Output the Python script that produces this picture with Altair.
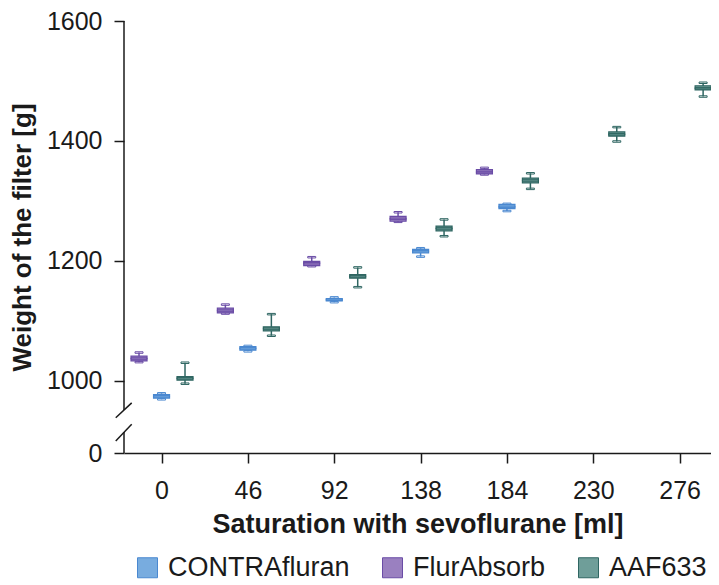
import altair as alt
import pandas as pd

# ---- data ----
levels = [0, 46, 92, 138, 184, 230, 276]
filters = ["CONTRAfluran", "FlurAbsorb", "AAF633"]

contra_lo = [969, 1049, 1131, 1207, 1283]
contra_q1 = [971, 1051, 1133, 1213, 1287]
contra_med = [974, 1054, 1135, 1216, 1290]
contra_q3 = [977, 1057, 1137, 1219, 1294]
contra_hi = [979, 1058, 1139, 1221, 1295]

flur_lo = [1031, 1112, 1191, 1265, 1344]
flur_q1 = [1033, 1113, 1192, 1266, 1345]
flur_med = [1037, 1117, 1196, 1270, 1348]
flur_q3 = [1041, 1121, 1199, 1274, 1352]
flur_hi = [1047, 1127, 1206, 1281, 1355]

aaf_lo = [995, 1075, 1156, 1241, 1320, 1399, 1474]
aaf_q1 = [1001, 1083, 1171, 1250, 1330, 1408, 1485]
aaf_med = [1004, 1087, 1174, 1254, 1334, 1411, 1488]
aaf_q3 = [1007, 1090, 1177, 1258, 1338, 1415, 1492]
aaf_hi = [1030, 1111, 1189, 1269, 1346, 1423, 1497]

y_ticks = [0, 1000, 1200, 1400, 1600]

rows = []
for name, lo, q1, med, q3, hi in [
    ("CONTRAfluran", contra_lo, contra_q1, contra_med, contra_q3, contra_hi),
    ("FlurAbsorb", flur_lo, flur_q1, flur_med, flur_q3, flur_hi),
    ("AAF633", aaf_lo, aaf_q1, aaf_med, aaf_q3, aaf_hi),
]:
    for i in range(len(med)):
        rows.append(dict(filter=name, level=levels[i], lo=lo[i], q1=q1[i],
                         med=med[i], q3=q3[i], hi=hi[i]))
df = pd.DataFrame(rows)

FONT = "Liberation Sans"
INK = "#1a1a1a"
fills = ["#78acdf", "#9a80c0", "#6f9e99"]
strokes = ["#4a88d0", "#6a4ca6", "#2f6662"]

xscale = alt.Scale(domain=[-20, 292.7], nice=False, zero=False, padding=0)
yscale = alt.Scale(domain=[0, 960, 1600], range=[432, 383.7, 0], nice=False, zero=False, padding=0)

xaxis = alt.Axis(values=levels, title="Saturation with sevoflurane [ml]", grid=False,
                 domain=True, domainColor=INK, domainWidth=1.5,
                 tickColor=INK, tickWidth=1.5, tickSize=10,
                 labelFontSize=25, labelFont=FONT, labelColor=INK,
                 labelPadding=15, labelFlush=False, labelOverlap=False,
                 titleFontSize=27, titleFont=FONT, titleFontWeight="bold",
                 titleColor=INK, titlePadding=8)
yaxis = alt.Axis(values=y_ticks, format="d", title="Weight of the filter [g]", grid=False,
                 domain=False, tickColor=INK, tickWidth=1.5, tickSize=10,
                 labelFontSize=25, labelFont=FONT, labelColor=INK,
                 labelPadding=12, labelOverlap=False,
                 titleFontSize=26, titleFont=FONT, titleFontWeight="bold",
                 titleColor=INK, titlePadding=11)

legend = alt.Legend(title=None, orient="none", legendX=10, legendY=533,
                    direction="horizontal", symbolType="square",
                    symbolSize=400, symbolStrokeWidth=1, symbolOpacity=1,
                    labelFontSize=27, labelFont=FONT, labelLimit=400,
                    labelColor=INK, labelOffset=7, columnPadding=29)
fill_enc = alt.Fill("filter:N", scale=alt.Scale(domain=filters, range=fills), legend=legend)
stroke_enc = alt.Stroke("filter:N", scale=alt.Scale(domain=filters, range=strokes), legend=legend)

base = alt.Chart(df).transform_calculate(
    xpos="datum.level + (datum.filter === 'FlurAbsorb' ? -12 : (datum.filter === 'AAF633' ? 12.5 : 0))"
)
X = alt.X("xpos:Q", scale=xscale, axis=xaxis)


def Yf(field):
    return alt.Y(field, type="quantitative", scale=yscale, axis=yaxis)


whisk = base.mark_rule(strokeWidth=1.5, opacity=1).encode(
    x=X, y=Yf("lo"), y2="hi:Q", stroke=stroke_enc)
cap_lo = base.mark_tick(orient="horizontal", size=8, thickness=1.5, filled=False, opacity=1).encode(
    x=X, y=Yf("lo"), stroke=stroke_enc)
cap_hi = base.mark_tick(orient="horizontal", size=8, thickness=1.5, filled=False, opacity=1).encode(
    x=X, y=Yf("hi"), stroke=stroke_enc)
box = base.mark_bar(size=16, strokeWidth=1.2, opacity=1).encode(
    x=X, y=Yf("q1"), y2="q3:Q", fill=fill_enc, stroke=stroke_enc)
median = base.mark_tick(orient="horizontal", size=16, thickness=1.5, filled=False, opacity=1).encode(
    x=X, y=Yf("med"), stroke=stroke_enc)

# broken y-axis line and break marks (end-points in data units)
brk_x0 = [-20, -20, -24.4, -24.4]
brk_x1 = [-20, -20, -15.9, -15.9]
brk_y0 = [855, 0, 702, 239]
brk_y1 = [1600, 417, 963, 571]
brk = pd.DataFrame({"xpos": brk_x0, "x1": brk_x1, "lo": brk_y0, "hi": brk_y1})
breaks = alt.Chart(brk).mark_rule(color=INK, strokeWidth=1.5).encode(
    x=X, x2="x1:Q", y=Yf("lo"), y2="hi:Q")

chart = alt.layer(whisk, cap_lo, cap_hi, box, median, breaks).properties(
    width=587, height=432,
    autosize=alt.AutoSizeParams(type="none"),
    padding={"left": 116, "top": 13, "right": 0, "bottom": 128},
    background="white",
).configure_view(strokeWidth=0)

chart.save("out.html", embed_options={"renderer": "svg", "actions": False})
